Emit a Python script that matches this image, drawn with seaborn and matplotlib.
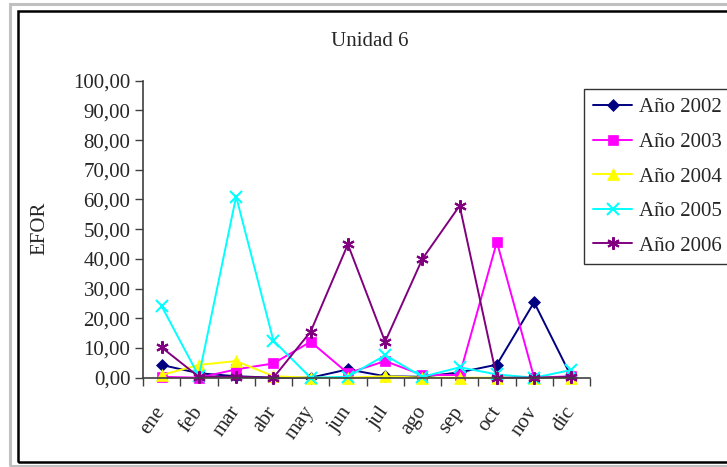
import matplotlib
matplotlib.use("Agg")
import matplotlib.pyplot as plt
import seaborn as sns
import pandas as pd
from matplotlib.patches import Rectangle
from matplotlib.ticker import FuncFormatter, FixedLocator

months = ["ene", "feb", "mar", "abr", "may", "jun", "jul", "ago", "sep", "oct", "nov", "dic"]
y2002 = [4.3, 1.5, 0.5, 0.0, 0.0, 2.8, 0.5, 0.3, 1.8, 4.4, 25.4, 0.3]
y2003 = [0.3, 0.0, 2.8, 4.8, 12.1, 1.5, 5.6, 0.9, 0.9, 45.7, 0.0, 0.5]
y2004 = [0.9, 4.3, 5.6, 0.5, 0.0, 0.0, 0.5, 0.0, 0.0, 0.0, 0.0, 0.0]
y2005 = [24.1, 0.5, 61.0, 12.5, 0.0, 0.3, 7.6, 0.3, 3.5, 1.1, 0.0, 2.6]
y2006 = [10.2, 0.3, 0.3, 0.0, 15.5, 44.9, 12.1, 40.0, 57.9, 0.0, 0.0, 0.3]
series_names = ["Año 2002", "Año 2003", "Año 2004", "Año 2005", "Año 2006"]
series_vals = [y2002, y2003, y2004, y2005, y2006]
colors = ["#000080", "#FF00FF", "#FFFF00", "#00FFFF", "#800080"]
markers = ["D", "s", "^", "x", (6, 2, 0)]
msizes = [6, 7, 8, 8, 9]

sns.set_style("white")
plt.rcParams["font.family"] = ["Liberation Serif", "DejaVu Serif"]
FS = 15

W, H = 727, 467
fig = plt.figure(figsize=(W / 100, H / 100), dpi=100)

# outer frames
fig.patches.append(Rectangle((10 / W, 1 - 466 / H), 740 / W, 462 / H, transform=fig.transFigure,
                             fill=False, edgecolor="#c0c0c0", linewidth=2.2, zorder=0))
fig.patches.append(Rectangle((18 / W, 1 - 462 / H), 740 / W, 451 / H, transform=fig.transFigure,
                             fill=False, edgecolor="black", linewidth=1.8, zorder=0))

ax = fig.add_axes([143 / W, 1 - 377.7 / H, (590 - 143) / W, (377.7 - 80.7) / H])
ax.patch.set_alpha(0)

for name, vals, c, m, ms in zip(series_names, series_vals, colors, markers, msizes):
    df = pd.DataFrame({"mes": months, "EFOR": vals})
    sns.lineplot(data=df, x="mes", y="EFOR", ax=ax, color=c, marker=m, markersize=ms,
                 markeredgecolor=c, markerfacecolor=c, markeredgewidth=1.5 if m in ("x", (6, 2, 0)) else 0.5,
                 linewidth=1.4, label=name, sort=False, clip_on=False)

ax.set_xlim(-0.5, 11.5)
ax.set_ylim(0, 100)
ax.set_yticks(range(0, 101, 10))
ax.yaxis.set_major_formatter(FuncFormatter(lambda v, p: f"{v:.2f}".replace(".", ",")))
ax.set_xticks(range(12))
ax.set_xticklabels(months, rotation=55, ha="right", va="center", rotation_mode="anchor")
ax.xaxis.set_minor_locator(FixedLocator([i - 0.5 for i in range(13)]))
ax.tick_params(axis="x", which="major", length=0, pad=22, labelsize=FS)
ax.tick_params(axis="x", which="minor", length=6, width=1, direction="out", bottom=True, color="#404040")
ax.tick_params(axis="y", length=6, width=1, direction="out", left=True, labelsize=FS, pad=3, color="#404040")
for s in ["top", "right"]:
    ax.spines[s].set_visible(False)
for s in ["left", "bottom"]:
    ax.spines[s].set_color("#404040")
    ax.spines[s].set_linewidth(1.2)
ax.set_xlabel("")
ax.set_ylabel("")
ax.grid(False)

fig.text(370 / W, 1 - 42 / H, "Unidad 6", ha="center", va="center", fontsize=FS)
fig.text(40 / W, 1 - 228 / H, "EFOR", ha="center", va="center", rotation=90, fontsize=FS)

leg = ax.legend(loc="upper left", bbox_to_anchor=(584 / W, 1 - 89 / H), bbox_transform=fig.transFigure,
                frameon=True, fancybox=False, fontsize=FS, handlelength=1.9, handletextpad=0.3,
                labelspacing=0.72, borderpad=0.42, borderaxespad=0)
leg.get_frame().set_edgecolor("black")
leg.get_frame().set_linewidth(1.0)

fig.savefig("out.png", dpi=100)
